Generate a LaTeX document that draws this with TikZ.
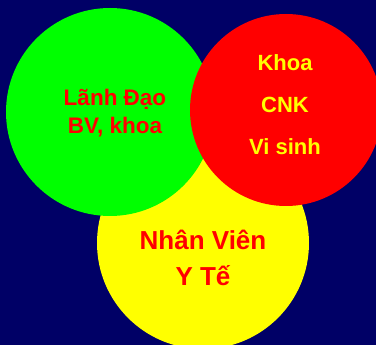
\documentclass[tikz,border=0pt]{standalone}
\usepackage{fontspec}
\setmainfont{Liberation Sans}
\definecolor{navybg}{HTML}{000066}
\definecolor{vgreen}{HTML}{00FF00}
\definecolor{vred}{HTML}{FF0000}
\definecolor{vyellow}{HTML}{FFFF00}
\begin{document}
\begin{tikzpicture}[x=1pt,y=1pt,
  lbl/.style={font=\bfseries\fontsize{22.5}{28}\selectfont, align=center, inner sep=0pt},
  biglbl/.style={font=\bfseries\fontsize{26}{36}\selectfont, align=center, inner sep=0pt}]
\fill[navybg] (0,0) rectangle (376,345);
\useasboundingbox (0,0) rectangle (376,345);
\begin{scope}
\clip (0,0) rectangle (376,345);
\fill[vyellow] (203,102) circle (106);
\fill[vgreen] (110,233) circle (104);
\fill[vred] (286,235) circle (96);
\end{scope}
\node[lbl, text=vred] (lead) at (115,232) {Lãnh Đạo\\BV, khoa};
\node[lbl, text=vyellow, font=\bfseries\fontsize{22}{42}\selectfont] (dept) at (285,240) {Khoa\\CNK\\Vi sinh};
\node[biglbl, text=vred] (staff) at (203,87) {Nhân Viên\\Y Tế};
\end{tikzpicture}
\end{document}
